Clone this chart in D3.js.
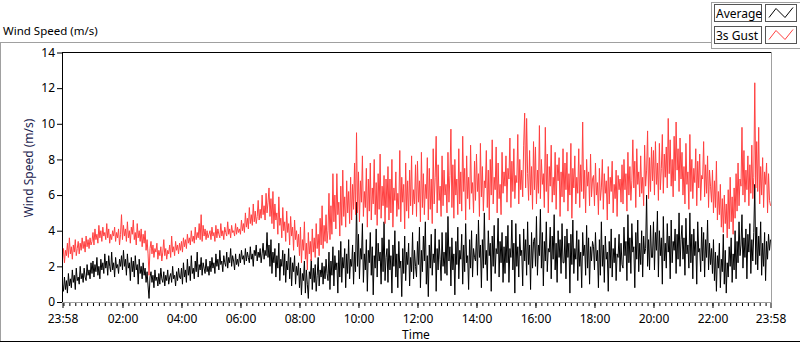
<!DOCTYPE html>
<html><head><meta charset="utf-8">
<script src="https://cdn.jsdelivr.net/npm/d3@7"></script>
<style>
body{margin:0;background:#fff;}
svg{display:block;font-family:"Noto Sans",sans-serif;}
</style>
</head><body>
<svg id="c" width="800" height="342"></svg>
<script>
// ---- data, one row per hour, 2-minute samples ----
const timeStart = "2000-01-01T23:58:00Z";
const timeEnd = "2000-01-02T23:58:00Z";
const yTicks = [0, 2, 4, 6, 8, 10, 12, 14];
const seriesNames = ["Average", "3s Gust"];
const chartTitle = "Wind Speed (m/s)";
const yTitle = "Wind Speed (m/s)";
const xTitle = "Time";

const avg = [
1.0,0.6,1.4,0.7,1.2,0.5,1.6,0.9,1.3,0.8,1.8,1.1,1.5,0.7,1.9,1.2,1.4,1.0,2.0,1.3,1.6,1.1,1.9,1.4,1.2,2.1,1.5,1.8,1.3,2.2,
1.6,2.3,1.4,2.1,1.7,2.5,1.5,2.0,1.3,2.4,1.8,2.2,1.6,2.7,1.9,2.3,1.5,2.6,2.0,1.7,2.8,1.8,2.2,1.4,2.5,1.9,2.1,1.6,2.4,2.0,
2.6,1.8,2.9,2.0,2.4,1.5,2.7,1.9,2.2,1.2,2.5,1.7,2.3,1.4,2.6,1.8,2.1,1.0,2.4,1.6,2.0,1.3,2.2,1.5,1.9,1.1,1.7,0.9,0.2,1.4,
1.7,1.1,1.5,0.8,1.8,1.2,1.4,0.9,1.6,1.0,1.9,1.3,1.1,1.7,0.9,1.5,1.2,1.8,1.0,1.4,1.6,1.1,2.0,1.3,1.5,0.9,1.7,1.2,1.9,1.4,
1.3,1.9,1.0,2.2,1.4,1.8,1.1,2.4,1.5,2.0,1.2,2.6,1.6,1.9,1.3,2.3,1.7,2.8,1.4,2.1,1.8,2.5,1.5,2.2,1.9,1.6,2.4,1.7,2.0,1.5,
2.3,1.7,2.5,1.9,2.2,1.6,2.7,2.0,2.4,1.8,2.9,2.1,2.3,1.7,2.6,2.2,2.0,2.8,1.9,2.5,2.2,3.0,2.0,2.6,2.3,1.8,2.7,2.1,2.4,2.0,
2.7,2.2,2.9,2.4,2.6,2.1,3.0,2.3,2.8,2.5,2.2,3.1,2.4,2.7,2.0,2.9,2.6,3.2,2.3,2.8,2.5,3.0,2.2,2.7,3.3,2.4,2.9,2.6,3.9,2.5,
3.2,2.0,3.5,1.6,2.8,2.2,3.0,1.4,2.6,1.9,3.3,1.2,2.4,2.0,2.9,1.5,2.7,1.1,2.3,1.8,3.0,1.3,2.5,0.9,2.2,1.7,2.6,1.0,2.0,1.5,
2.2,0.8,1.9,0.4,1.6,1.2,2.3,0.5,1.8,1.0,0.2,1.7,1.3,2.4,0.7,1.9,1.1,2.1,0.6,1.5,2.5,0.9,1.8,1.4,2.2,1.0,2.0,1.3,2.4,1.6,
1.2,2.8,0.7,2.3,1.5,3.1,0.9,2.6,1.8,2.2,0.5,2.9,1.4,3.4,1.1,2.5,1.9,3.0,0.8,2.7,1.6,3.5,1.3,2.4,2.0,3.2,1.0,2.8,1.7,5.6,
2.0,3.8,1.3,3.0,2.4,4.4,1.1,2.7,1.8,3.5,0.6,2.9,2.2,3.9,1.5,3.1,0.4,2.6,1.9,4.1,1.4,3.3,2.3,2.8,1.0,3.6,1.7,4.5,1.2,2.5,
3.0,1.1,3.5,1.8,2.6,0.5,3.2,2.0,4.0,1.4,2.7,0.8,3.4,1.9,2.3,0.3,3.0,1.6,3.7,1.2,2.8,2.1,3.3,0.9,2.5,1.7,3.9,1.3,2.9,2.0,
1.4,3.4,2.1,4.2,0.8,2.9,1.7,3.7,2.3,4.5,1.0,2.6,0.3,3.2,1.9,3.8,1.5,2.7,2.2,4.1,0.6,3.0,1.8,3.5,2.4,1.2,3.9,2.0,2.8,1.6,
3.9,1.5,4.8,2.3,3.1,0.9,3.6,1.8,2.7,0.4,3.4,2.1,4.2,1.3,2.9,2.4,3.8,1.0,3.2,1.7,4.4,2.2,2.6,0.7,3.5,1.9,4.0,1.4,3.0,2.5,
2.3,3.8,1.5,4.6,2.5,3.2,0.8,3.5,1.9,5.0,2.1,2.9,1.2,4.0,2.6,3.3,0.6,3.7,2.0,4.3,1.6,3.0,2.7,4.7,1.4,3.4,2.2,3.9,1.1,3.1,
1.6,3.7,2.2,4.3,1.1,3.0,2.5,4.6,1.8,3.3,0.5,4.4,2.0,3.1,1.4,3.8,2.6,2.9,0.9,4.1,2.3,3.5,1.5,4.5,2.1,3.2,0.7,3.9,1.9,3.4,
3.6,2.0,4.8,1.5,3.2,2.6,5.2,1.9,3.9,0.9,3.4,2.3,4.5,1.7,3.0,2.8,4.2,1.3,3.7,2.4,4.9,1.8,3.3,1.1,4.0,2.5,3.5,1.6,4.4,2.2,
2.2,3.7,1.3,4.1,2.5,3.3,0.5,3.8,2.1,4.6,1.6,3.0,2.4,4.0,1.2,3.5,2.0,2.8,0.8,3.9,2.6,3.2,1.5,4.3,1.9,3.6,1.0,3.1,2.3,3.4,
3.1,1.8,3.9,2.3,2.9,0.8,3.5,1.5,4.5,2.0,3.2,1.1,3.7,2.4,2.8,0.6,3.4,1.9,4.1,1.4,3.0,2.2,3.6,1.2,2.7,2.5,3.8,1.7,3.3,2.1,
1.9,4.2,2.6,3.4,1.2,4.9,2.2,3.6,1.6,4.4,2.8,3.1,0.8,3.9,2.4,4.6,1.7,3.3,2.1,4.0,1.4,3.7,2.7,3.0,6.0,2.0,3.5,1.8,4.3,2.5,
2.5,4.5,1.8,3.9,2.9,5.1,1.4,4.0,2.6,3.6,1.0,4.8,2.3,3.3,1.9,4.4,2.8,3.7,1.3,4.6,2.2,3.4,2.9,4.1,1.6,3.8,2.4,5.0,2.0,3.5,
4.3,2.4,3.6,1.5,4.7,2.7,3.2,1.9,5.0,2.2,3.8,1.3,4.1,2.6,3.4,1.0,4.5,2.8,3.0,1.7,4.2,2.3,3.9,1.4,3.5,2.5,4.6,1.8,3.3,2.1,
3.0,1.6,3.5,1.2,2.8,0.6,2.6,1.9,3.3,0.8,2.4,1.7,3.8,1.0,2.9,0.5,2.2,1.4,3.1,2.0,3.6,1.1,2.7,1.8,4.0,1.3,3.4,2.2,4.5,2.6,
3.2,4.9,1.9,3.6,2.5,4.1,1.3,3.8,2.8,4.4,1.6,3.5,2.3,3.9,6.6,2.1,4.2,1.8,3.7,2.6,4.5,1.5,3.3,2.0,3.9,1.2,3.4,2.4,3.8,2.9,
3.5
];

const gust = [
2.4,3.0,2.2,2.9,2.6,3.3,2.5,3.6,2.7,3.1,2.4,3.2,2.8,3.5,2.6,3.0,3.4,2.7,3.3,2.9,3.6,3.0,3.4,2.8,3.7,3.1,3.5,3.0,3.6,3.2,
3.4,3.9,3.2,4.1,3.5,3.8,3.3,4.3,3.6,4.0,3.4,4.2,3.7,3.9,3.5,4.4,3.6,4.1,3.3,3.8,3.5,4.0,3.7,4.2,3.4,3.9,3.6,4.1,3.2,3.8,
4.9,3.5,4.3,3.7,4.1,3.4,4.5,3.6,4.0,3.3,4.2,3.8,4.6,3.5,3.9,3.2,4.4,3.6,4.0,3.4,4.1,3.1,3.8,3.3,4.0,2.9,3.5,2.7,1.5,3.0,
3.4,2.7,3.2,2.5,3.0,2.8,3.3,2.4,2.9,2.6,3.1,2.3,2.8,3.5,2.6,3.0,2.4,2.9,2.7,3.2,2.5,3.7,2.8,3.1,2.6,3.4,2.9,3.2,2.7,3.3,
2.9,3.4,2.8,3.6,3.1,3.5,3.0,3.8,3.3,3.6,3.2,4.0,3.4,3.7,3.3,4.2,3.5,3.9,3.6,4.4,3.5,4.9,3.4,4.3,3.7,4.1,3.5,4.0,3.6,3.8,
4.0,3.5,4.2,3.7,3.9,3.4,4.3,3.6,4.1,3.8,3.6,4.4,3.7,4.0,3.5,4.2,3.9,3.7,4.5,3.8,4.1,3.6,4.3,3.9,4.0,3.7,4.4,3.8,4.2,3.9,
4.1,3.8,4.6,4.0,4.4,3.9,5.0,4.2,4.7,4.1,5.3,4.4,4.9,4.3,5.5,4.5,5.1,4.4,4.8,5.7,4.6,5.2,4.7,6.0,4.9,5.4,4.6,6.1,5.0,5.6,
6.4,4.8,5.8,4.4,6.2,4.1,5.5,4.6,5.0,3.8,5.9,4.3,4.7,3.6,5.3,4.0,4.5,3.4,5.1,3.9,4.4,3.2,4.8,3.7,4.2,2.9,4.6,3.5,4.0,3.1,
3.8,2.6,4.2,2.2,3.5,2.9,4.5,2.4,3.3,1.8,3.9,2.7,3.4,2.3,4.1,2.8,3.6,2.5,4.4,3.0,3.8,2.6,4.7,3.2,5.4,3.0,4.3,3.4,4.9,3.3,
4.0,6.1,3.5,5.4,3.8,7.2,4.5,6.0,4.1,7.2,4.9,5.6,3.7,6.5,4.3,7.4,4.8,5.9,4.2,6.8,5.0,6.2,4.4,7.0,4.6,6.6,5.2,7.8,4.9,9.5,
5.0,7.3,4.5,6.8,5.6,8.2,4.8,6.2,5.3,7.5,4.2,6.9,5.1,7.8,4.6,6.4,5.5,8.0,4.9,6.7,4.3,7.2,5.2,8.3,4.7,6.5,5.4,7.1,4.4,6.9,
5.3,7.6,4.6,6.9,5.0,8.0,4.2,6.4,5.7,7.3,4.8,6.1,5.2,8.5,4.5,7.0,5.6,6.6,4.1,7.8,5.1,6.8,4.7,7.4,5.4,8.2,4.9,6.3,5.5,7.7,
4.8,7.9,5.6,6.8,4.5,8.4,5.3,7.2,4.9,6.6,5.8,8.1,4.6,7.5,5.2,6.9,4.4,8.6,5.5,7.0,9.3,5.0,7.7,5.7,6.5,4.8,8.2,5.4,7.4,6.0,
6.6,5.0,8.4,5.6,7.1,9.7,5.3,7.7,4.7,8.0,6.0,6.9,4.9,8.6,5.5,7.3,5.1,9.3,6.2,7.5,4.6,8.2,5.8,7.0,5.2,8.8,6.1,6.7,5.0,7.9,
5.7,8.3,6.2,7.2,4.8,8.9,5.9,7.6,5.1,6.8,6.4,8.5,5.3,7.4,4.6,8.0,6.0,9.1,5.5,7.0,6.3,8.7,5.0,7.8,5.8,6.6,4.9,8.4,6.1,7.3,
6.5,8.2,5.6,7.5,6.9,9.2,5.3,7.9,6.2,8.6,5.8,7.1,6.7,9.4,5.5,8.0,6.3,7.4,5.9,8.8,10.6,6.4,10.3,7.2,5.7,8.5,6.0,7.6,5.2,9.0,
6.3,8.7,5.5,7.4,6.1,9.9,5.8,8.0,6.6,7.2,5.3,9.8,6.2,8.3,5.0,7.6,6.5,8.8,5.6,7.0,6.0,8.4,5.2,7.7,6.8,8.1,4.8,7.3,5.9,8.6,
5.6,7.8,6.3,8.4,5.1,7.2,6.0,8.9,4.7,7.5,6.4,8.2,5.5,7.0,6.1,8.6,5.3,7.7,6.2,10.1,5.8,7.4,5.0,8.0,6.5,7.3,5.4,8.3,5.9,6.9,
7.1,5.4,7.8,6.0,6.7,4.9,7.5,5.7,6.4,8.0,5.2,7.2,6.1,6.8,4.6,7.6,5.5,7.0,6.2,7.9,5.0,6.6,5.8,7.4,4.8,7.1,6.3,6.9,5.6,7.7,
5.5,8.0,6.3,7.2,5.1,8.4,6.0,7.6,5.7,6.8,9.1,6.4,7.9,5.3,8.6,6.6,7.3,5.9,8.2,6.1,7.0,5.4,8.8,6.5,7.4,9.6,5.8,8.1,6.2,8.7,
6.8,8.5,6.0,9.0,6.6,7.8,5.7,8.9,6.3,7.5,9.4,6.1,8.3,7.0,8.7,6.4,10.3,7.2,9.1,6.5,8.0,5.9,9.3,6.8,10.1,7.4,8.6,6.2,9.2,6.9,
8.4,6.0,7.6,5.5,8.9,6.6,7.3,5.2,9.4,6.2,8.0,5.8,7.5,6.7,8.6,5.4,7.9,6.4,8.3,5.7,7.1,6.9,9.0,5.9,7.7,6.1,8.2,5.3,7.4,6.5,
5.6,7.4,5.0,6.8,5.3,7.9,4.6,6.2,4.9,6.6,4.2,5.8,3.9,6.0,4.4,5.5,3.6,6.3,4.1,7.0,4.5,5.9,3.8,6.4,4.7,7.2,5.1,7.8,5.4,6.9,
6.5,9.8,6.0,8.5,5.6,7.4,6.3,8.2,5.4,7.7,6.1,8.8,5.8,7.0,12.3,6.4,9.0,6.2,9.8,5.5,7.6,6.0,8.1,5.3,7.3,6.6,7.8,5.0,7.2,5.7,
5.4
];

// ---- layout ----
const svg = d3.select("#c");
const px0 = 62, px1 = 772, py0 = 52, py1 = 302;

const parseT = d3.utcParse("%Y-%m-%dT%H:%M:%SZ");
const t0 = parseT(timeStart), t1 = parseT(timeEnd);
const x = d3.scaleUtc().domain([t0, t1]).range([62.5, 770.5]);
const y = d3.scaleLinear().domain([0, 14]).range([302, 52.5]);

// each series spans the full day evenly
function timesFor(arr) {
  const span = t1 - t0;
  return arr.map((_, i) => new Date(+t0 + span * i / (arr.length - 1)));
}

// outer frame
svg.append("line").attr("x1", 0).attr("x2", 711).attr("y1", 42.5).attr("y2", 42.5).attr("stroke", "#a0a0a0");
svg.append("line").attr("x1", 0.5).attr("x2", 0.5).attr("y1", 42.5).attr("y2", 342).attr("stroke", "#a0a0a0");
svg.append("line").attr("x1", 0).attr("x2", 800).attr("y1", 341.5).attr("y2", 341.5).attr("stroke", "#000");

// chart title
svg.append("text").attr("x", 3).attr("y", 35).attr("font-size", 11.5).attr("fill", "#000").text(chartTitle);

// plot area background
svg.append("rect").attr("x", px0).attr("y", py0).attr("width", px1 - px0).attr("height", py1 - py0).attr("fill", "#fff");

svg.append("clipPath").attr("id", "clip").append("rect")
  .attr("x", px0 + 1).attr("y", py0 + 1).attr("width", px1 - px0 - 1).attr("height", py1 - py0);

const g = svg.append("g").attr("clip-path", "url(#clip)");
[[avg, "#000"], [gust, "#ff4040"]].forEach(([arr, col]) => {
  const ts = timesFor(arr);
  const line = d3.line().x((d, i) => x(ts[i])).y(d => y(d));
  g.append("path").datum(arr).attr("d", line).attr("fill", "none").attr("stroke", col).attr("stroke-width", 1);
});

// plot borders
svg.append("line").attr("x1", px0 + 0.5).attr("x2", px1).attr("y1", py0 + 0.5).attr("y2", py0 + 0.5).attr("stroke", "#000");
svg.append("line").attr("x1", px0 + 0.5).attr("x2", px0 + 0.5).attr("y1", py0).attr("y2", py1 + 1).attr("stroke", "#000");
svg.append("line").attr("x1", px1 - 0.5).attr("x2", px1 - 0.5).attr("y1", py0).attr("y2", py1 + 1).attr("stroke", "#a0a0a0");
svg.append("line").attr("x1", px0).attr("x2", px1).attr("y1", py1 + 0.5).attr("y2", py1 + 0.5).attr("stroke", "#a0a0a0");

// y axis
const yAxis = d3.axisLeft(y).tickValues(yTicks).tickSize(5).tickPadding(2).tickFormat(d3.format("d"));
const gy = svg.append("g").attr("transform", `translate(${px0},0)`).call(yAxis);
gy.select(".domain").remove();
gy.selectAll("text").attr("font-size", 12).attr("font-family", "Noto Sans").attr("fill", "#000");
gy.selectAll("line").attr("stroke", "#000");

// x axis: major ticks at start, every even hour, end; minor every 12 min
const evenHours = d3.utcHour.every(2).range(d3.utcMinute.offset(t0, 30), d3.utcMinute.offset(t1, -30));
const majors = [t0, ...evenHours, t1];
const minors = d3.utcMinute.every(12).range(t0, t1);
const gxm = svg.append("g").attr("transform", `translate(0,${py1 + 1})`)
  .call(d3.axisBottom(x).tickValues(minors).tickSize(3).tickFormat(""));
gxm.select(".domain").remove();
gxm.selectAll("line").attr("stroke", "#000");
const gx = svg.append("g").attr("transform", `translate(0,${py1 + 1})`)
  .call(d3.axisBottom(x).tickValues(majors).tickSize(5).tickPadding(6).tickFormat(d3.utcFormat("%H:%M")));
gx.select(".domain").remove();
gx.selectAll("line").attr("stroke", "#000").attr("stroke-width", 1);
gx.selectAll("text").attr("font-size", 12).attr("font-family", "Noto Sans").attr("fill", "#000");

// axis titles
svg.append("text").attr("x", 416).attr("y", 339).attr("text-anchor", "middle").attr("font-size", 12).attr("fill", "#000").text(xTitle);
svg.append("text").attr("transform", "translate(33,168) rotate(-90)").attr("text-anchor", "middle")
  .attr("font-size", 12).attr("fill", "#1c2450").text(yTitle);

// legend
svg.append("rect").attr("x", 711.5).attr("y", 2.5).attr("width", 90).attr("height", 46).attr("fill", "none").attr("stroke", "#a0a0a0");
const legColors = ["#000", "#ff4040"];
seriesNames.forEach((name, i) => {
  const ly = 4.5 + i * 22;
  svg.append("rect").attr("x", 714.5).attr("y", ly).attr("width", 47).attr("height", 17).attr("fill", "#fff").attr("stroke", "#555");
  svg.append("text").attr("x", 716).attr("y", ly + 13).attr("font-size", 12).attr("fill", "#000").text(name);
  svg.append("rect").attr("x", 765.5).attr("y", ly).attr("width", 31).attr("height", 17).attr("fill", "#fff").attr("stroke", "#555");
  const zz = d3.line()([[769, ly + 13], [776, ly + 4], [785, ly + 13], [793, ly + 3]]);
  svg.append("path").attr("d", zz).attr("fill", "none").attr("stroke", legColors[i]).attr("stroke-width", 1);
});
</script>
</body></html>
